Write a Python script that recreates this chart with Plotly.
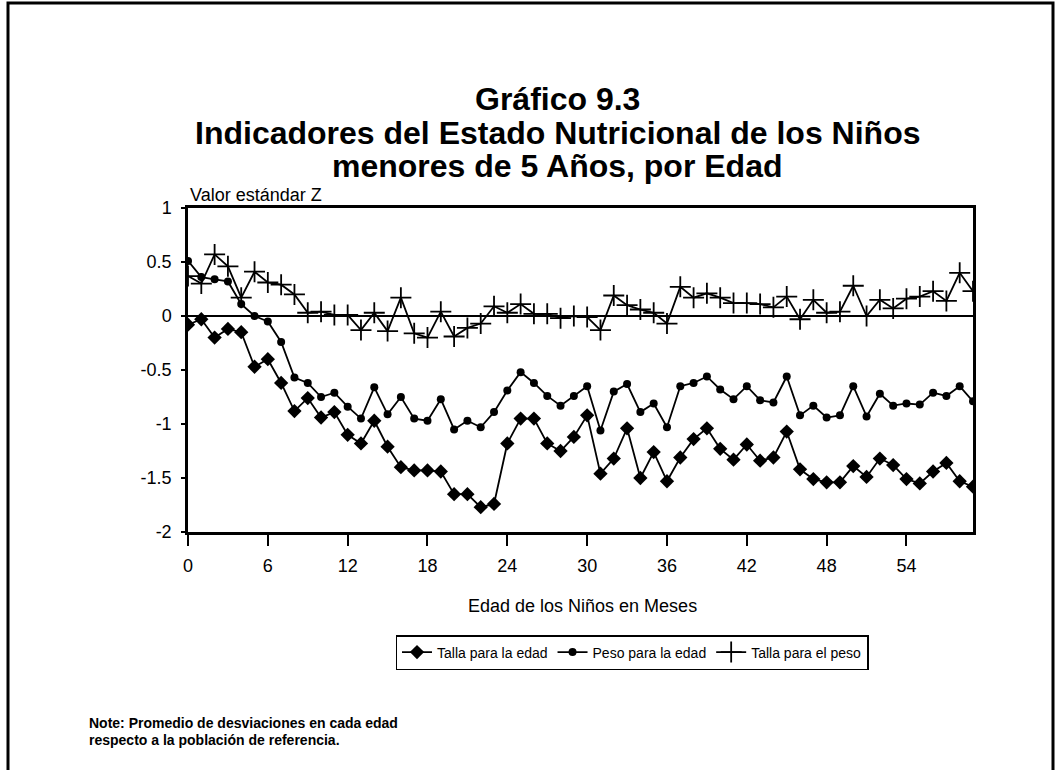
import plotly.graph_objects as go

# Edad en meses (0 a 59)
meses = list(range(60))

# Valor estándar Z promedio por edad
talla_edad = [-0.08, -0.03, -0.20, -0.12, -0.15, -0.47, -0.40, -0.62, -0.88, -0.76,
              -0.94, -0.89, -1.10, -1.18, -0.97, -1.21, -1.40, -1.43, -1.43, -1.44,
              -1.65, -1.65, -1.77, -1.74, -1.18, -0.95, -0.95, -1.18, -1.25, -1.12,
              -0.92, -1.46, -1.32, -1.04, -1.50, -1.26, -1.53, -1.31, -1.14, -1.04,
              -1.23, -1.33, -1.19, -1.34, -1.31, -1.07, -1.42, -1.51, -1.54, -1.54,
              -1.39, -1.49, -1.32, -1.38, -1.51, -1.55, -1.44, -1.36, -1.53, -1.58]

peso_edad = [0.51, 0.36, 0.34, 0.32, 0.11, 0.00, -0.05, -0.24, -0.57, -0.62,
             -0.75, -0.71, -0.84, -0.95, -0.66, -0.91, -0.75, -0.95, -0.97, -0.77,
             -1.05, -0.97, -1.03, -0.89, -0.69, -0.52, -0.62, -0.74, -0.83, -0.74,
             -0.65, -1.06, -0.70, -0.63, -0.89, -0.81, -1.03, -0.65, -0.62, -0.56,
             -0.68, -0.77, -0.65, -0.78, -0.80, -0.56, -0.92, -0.83, -0.94, -0.92,
             -0.65, -0.93, -0.72, -0.83, -0.81, -0.82, -0.71, -0.74, -0.65, -0.79]

talla_peso = [0.37, 0.30, 0.57, 0.46, 0.17, 0.41, 0.31, 0.29, 0.20, 0.03,
              0.04, 0.01, 0.01, -0.13, 0.03, -0.14, 0.17, -0.16, -0.20, 0.04,
              -0.19, -0.11, -0.07, 0.09, 0.03, 0.11, 0.02, 0.02, -0.02, 0.00,
              -0.01, -0.13, 0.19, 0.10, 0.06, 0.03, -0.07, 0.27, 0.17, 0.21,
              0.17, 0.12, 0.12, 0.11, 0.08, 0.18, -0.03, 0.15, 0.03, 0.04,
              0.28, 0.00, 0.15, 0.07, 0.16, 0.18, 0.23, 0.14, 0.40, 0.23]

x_ticks = [0, 6, 12, 18, 24, 30, 36, 42, 48, 54]
y_ticks = [-2, -1.5, -1, -0.5, 0, 0.5, 1]
y_tick_text = ["-2", "-1.5", "-1", "-0.5", "0", "0.5", "1"]

W, H = 1056, 770
L, R, T, B = 188, 83, 208, 238
PW, PH = W - L - R, H - T - B
FONT = "Liberation Sans, Arial, Helvetica, sans-serif"


def px(xp):
    return (xp - L) / PW


def py(yp):
    return (H - B - yp) / PH


fig = go.Figure()

fig.add_trace(go.Scatter(
    x=meses, y=talla_edad, name="Talla para la edad", mode="lines+markers",
    line=dict(color="black", width=1.8),
    marker=dict(symbol="diamond", size=11, color="black"),
))
fig.add_trace(go.Scatter(
    x=meses, y=peso_edad, name="Peso para la edad", mode="lines+markers",
    line=dict(color="black", width=1.8),
    marker=dict(symbol="circle", size=8, color="black"),
))
fig.add_trace(go.Scatter(
    x=meses, y=talla_peso, name="Talla para el peso", mode="lines+markers",
    line=dict(color="black", width=1.8),
    marker=dict(symbol="cross-thin", size=15, color="black",
                line=dict(color="black", width=1.8)),
))

fig.update_xaxes(
    range=[0, 59], tickvals=x_ticks, ticktext=[str(v) for v in x_ticks],
    showgrid=False, zeroline=False, showline=True, linecolor="black", linewidth=2.5,
    mirror=True, ticks="outside", ticklen=11, tickwidth=2, tickcolor="black",
    ticklabelstandoff=5,
    tickfont=dict(family=FONT, size=18, color="black"),
)
fig.update_yaxes(
    range=[-2, 1], tickvals=y_ticks, ticktext=y_tick_text,
    showgrid=False, zeroline=True, zerolinecolor="black", zerolinewidth=2.2,
    showline=True, linecolor="black", linewidth=2.5, mirror=True,
    ticks="outside", ticklen=4, tickwidth=1.5, tickcolor="black",
    ticklabelstandoff=6,
    tickfont=dict(family=FONT, size=18, color="black"),
)

annotations = [
    dict(text="<b>Gráfico 9.3</b>", x=px(557), y=py(99), font=dict(size=32)),
    dict(text="<b>Indicadores del Estado Nutricional de los Niños</b>", x=px(557), y=py(133), font=dict(size=32)),
    dict(text="<b>menores de 5 Años, por Edad</b>", x=px(557), y=py(166), font=dict(size=32)),
    dict(text="Valor estándar Z", x=px(188), y=py(195), xanchor="left", font=dict(size=18)),
    dict(text="Edad de los Niños en Meses", x=px(582), y=py(606), font=dict(size=18)),
    dict(text="<b>Note: Promedio de desviaciones en cada edad</b>",
         x=px(87), y=py(723), xanchor="left", font=dict(size=14)),
    dict(text="<b>respecto a la población de referencia.</b>",
         x=px(87), y=py(740), xanchor="left", font=dict(size=14)),
]
for a in annotations:
    a.setdefault("xanchor", "center")
    a.update(xref="paper", yref="paper", yanchor="middle", showarrow=False)
    a["font"] = dict(family=FONT, color="black", **a["font"])
fig.update_layout(annotations=annotations)

# Outer frame around the whole exhibit
fig.add_shape(type="rect", xref="paper", yref="paper",
              x0=px(8), x1=px(1053), y0=py(790), y1=py(3),
              line=dict(color="black", width=3), layer="below")

fig.update_layout(
    width=W, height=H,
    margin=dict(l=L, r=R, t=T, b=B),
    paper_bgcolor="white", plot_bgcolor="white",
    font=dict(family=FONT, color="black"),
    showlegend=True,
    legend=dict(
        orientation="h", x=px(632), xanchor="center", y=py(635), yanchor="top",
        bordercolor="black", borderwidth=1.5, bgcolor="white",
        font=dict(family=FONT, size=14, color="black"),
        itemwidth=30, tracegroupgap=0,
    ),
)

fig.write_html("out.html")
